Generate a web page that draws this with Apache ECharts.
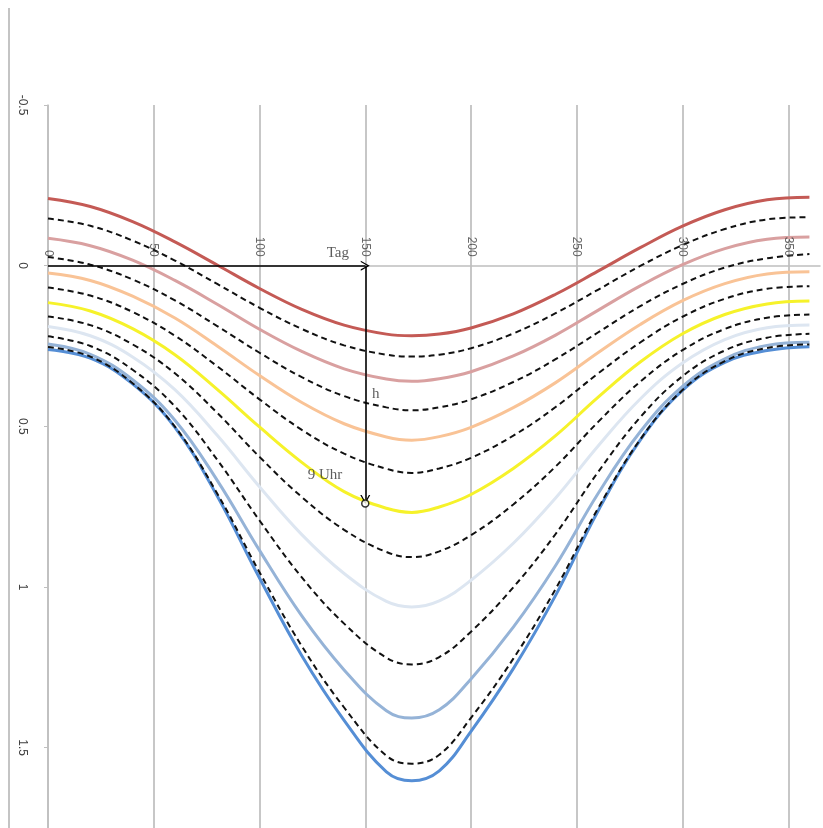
<!DOCTYPE html>
<html>
<head>
<meta charset="utf-8">
<title>Tag / h</title>
<script src="https://cdn.jsdelivr.net/npm/echarts@6/dist/echarts.min.js"></script>
<style>
  html, body { margin: 0; padding: 0; background: #fff; }
  #chart { width: 823px; height: 828px; }
</style>
</head>
<body>
<div id="chart"></div>
<script>
// Tag des Jahres
var days = [0, 20, 40, 60, 80, 100, 120, 140, 160, 172, 185, 200, 220, 240, 260, 280, 300, 320, 340, 360];

// solid colored lines (top to bottom)
var red    = [-0.209, -0.184, -0.137, -0.074, -0.002, 0.071, 0.136, 0.185, 0.213, 0.218, 0.213, 0.194, 0.150, 0.089, 0.017, -0.056, -0.123, -0.174, -0.205, -0.213];
var pink   = [-0.085, -0.062, -0.017, 0.046, 0.120, 0.198, 0.267, 0.321, 0.353, 0.360, 0.352, 0.330, 0.281, 0.216, 0.139, 0.063, -0.003, -0.053, -0.082, -0.089];
var peach  = [0.023, 0.046, 0.095, 0.163, 0.250, 0.342, 0.426, 0.492, 0.533, 0.543, 0.532, 0.503, 0.442, 0.364, 0.271, 0.183, 0.109, 0.056, 0.026, 0.019];
var yellow = [0.115, 0.141, 0.196, 0.277, 0.385, 0.502, 0.612, 0.703, 0.755, 0.768, 0.751, 0.712, 0.631, 0.529, 0.410, 0.300, 0.212, 0.152, 0.119, 0.110];
var light  = [0.189, 0.218, 0.284, 0.386, 0.528, 0.688, 0.837, 0.958, 1.045, 1.062, 1.043, 0.979, 0.864, 0.723, 0.562, 0.415, 0.303, 0.230, 0.193, 0.185];
var ltblue = [0.244, 0.276, 0.355, 0.481, 0.668, 0.886, 1.090, 1.258, 1.385, 1.408, 1.382, 1.286, 1.125, 0.933, 0.710, 0.517, 0.376, 0.290, 0.248, 0.238];
var blue   = [0.261, 0.288, 0.368, 0.503, 0.717, 0.972, 1.214, 1.415, 1.575, 1.603, 1.572, 1.449, 1.254, 1.026, 0.764, 0.543, 0.388, 0.301, 0.264, 0.252];

// dashed black lines in between
var dash1 = [-0.147, -0.124, -0.078, -0.016, 0.057, 0.131, 0.197, 0.248, 0.277, 0.283, 0.277, 0.257, 0.211, 0.148, 0.075, 0.001, -0.064, -0.114, -0.144, -0.151];
var dash2 = [-0.027, -0.003, 0.043, 0.108, 0.188, 0.271, 0.347, 0.406, 0.441, 0.450, 0.441, 0.416, 0.362, 0.291, 0.208, 0.126, 0.057, 0.006, -0.023, -0.036];
var dash3 = [0.068, 0.093, 0.144, 0.218, 0.313, 0.416, 0.511, 0.585, 0.632, 0.645, 0.631, 0.598, 0.529, 0.440, 0.336, 0.239, 0.159, 0.103, 0.072, 0.064];
var dash4 = [0.158, 0.185, 0.245, 0.335, 0.458, 0.595, 0.720, 0.822, 0.891, 0.907, 0.889, 0.839, 0.743, 0.625, 0.487, 0.361, 0.263, 0.197, 0.162, 0.152];
var dash5 = [0.220, 0.250, 0.324, 0.438, 0.604, 0.793, 0.970, 1.114, 1.220, 1.241, 1.218, 1.139, 1.001, 0.835, 0.643, 0.472, 0.344, 0.264, 0.224, 0.212];
var dash6 = [0.253, 0.283, 0.366, 0.501, 0.709, 0.954, 1.184, 1.375, 1.525, 1.550, 1.522, 1.407, 1.223, 1.006, 0.756, 0.541, 0.387, 0.297, 0.256, 0.245];

var xTicks = [0, 50, 100, 150, 200, 250, 300, 350];
var yTicks = [-0.5, 0, 0.5, 1, 1.5];

// Beispiel: 9 Uhr am Tag 150
var exampleDay = 150;
var exampleH = 0.74;

function pairs(vals) {
    return days.map(function (d, i) { return [d, vals[i]]; });
}

var solids = [
    { name: 'rot', data: red, color: '#c45a55' },
    { name: 'rosa', data: pink, color: '#d9a0a0' },
    { name: 'pfirsich', data: peach, color: '#f9c396' },
    { name: 'gelb', data: yellow, color: '#f6f22a' },
    { name: 'hell', data: light, color: '#dde6f1' },
    { name: 'hellblau', data: ltblue, color: '#95b3d7' },
    { name: 'blau', data: blue, color: '#558ed5' }
];
var dashes = [dash1, dash2, dash3, dash4, dash5, dash6];

var series = [];
solids.forEach(function (s) {
    series.push({
        name: s.name,
        type: 'line',
        data: pairs(s.data),
        smooth: 0.4,
        showSymbol: false,
        lineStyle: { color: s.color, width: 3 },
        z: 2
    });
});
dashes.forEach(function (d, i) {
    series.push({
        name: 'dash' + (i + 1),
        type: 'line',
        data: pairs(d),
        smooth: 0.4,
        showSymbol: false,
        lineStyle: { color: '#111', width: 2, type: [6, 4] },
        z: 3
    });
});

var chevron = 'path://M0,10 L5,0 L10,10 L8.6,10 L5,2.8 L1.4,10 Z';

// arrows + circle
series.push({
    type: 'scatter',
    data: [[exampleDay, exampleH]],
    symbol: 'circle',
    symbolSize: 7,
    itemStyle: { color: '#fff', borderColor: '#000', borderWidth: 1.5 },
    z: 6,
    markLine: {
        silent: true,
        symbol: ['none', chevron],
        symbolSize: [10, 9],
        label: { show: false },
        lineStyle: { color: '#000', width: 1.5, type: 'solid' },
        data: [
            [{ coord: [0, 0] }, { coord: [exampleDay, 0] }],
            [{ coord: [exampleDay, 0] }, { coord: [exampleDay, exampleH - 0.012] }]
        ]
    }
});

// x tick labels sitting on the zero line
series.push({
    type: 'scatter',
    symbolSize: 0,
    silent: true,
    z: 5,
    data: xTicks.map(function (v) { return [v, 0]; }),
    label: {
        show: true,
        position: [0, -9],
        rotate: -90,
        align: 'right',
        verticalAlign: 'middle',
        formatter: function (p) { return String(p.value[0]); },
        fontFamily: 'Liberation Sans',
        fontSize: 12,
        color: '#404040'
    }
});

// text annotations
series.push({
    type: 'scatter',
    symbolSize: 0,
    silent: true,
    z: 7,
    data: [
        { value: [137, -0.04], label: { formatter: 'Tag' } },
        { value: [155, 0.4], label: { formatter: 'h' } },
        { value: [131, 0.652], label: { formatter: '9 Uhr' } }
    ],
    label: {
        show: true,
        position: 'inside',
        fontFamily: 'Liberation Serif',
        fontSize: 15,
        color: '#333'
    }
});

var chart = echarts.init(document.getElementById('chart'));
chart.setOption({
    animation: false,
    backgroundColor: '#fff',
    grid: { left: 48, right: 3, top: 105, bottom: -5 },
    xAxis: {
        type: 'value',
        min: 0,
        max: 365,
        interval: 50,
        axisLine: { show: true, onZero: true, lineStyle: { color: '#bfbfbf', width: 1.5 } },
        axisTick: { show: false },
        axisLabel: { show: false },
        splitLine: { show: true, showMaxLine: false, lineStyle: { color: '#b5b5b5', width: 1.5 } }
    },
    yAxis: {
        type: 'value',
        inverse: true,
        min: -0.5,
        max: 1.75,
        interval: 0.5,
        axisLine: { show: true, lineStyle: { color: '#bfbfbf', width: 1.5 } },
        axisTick: { show: true, length: 4, lineStyle: { color: '#bfbfbf' } },
        axisLabel: {
            rotate: -90,
            margin: 20,
            color: '#404040',
            fontSize: 12,
            fontFamily: 'Liberation Sans',
            showMaxLabel: false,
            formatter: function (v) { return yTicks.indexOf(v) >= 0 ? String(v) : ''; }
        },
        splitLine: { show: false }
    },
    graphic: [{
        type: 'line',
        shape: { x1: 9, y1: 8, x2: 9, y2: 828 },
        style: { stroke: '#c4c4c4', lineWidth: 2 }
    }],
    series: series
});
</script>
</body>
</html>
